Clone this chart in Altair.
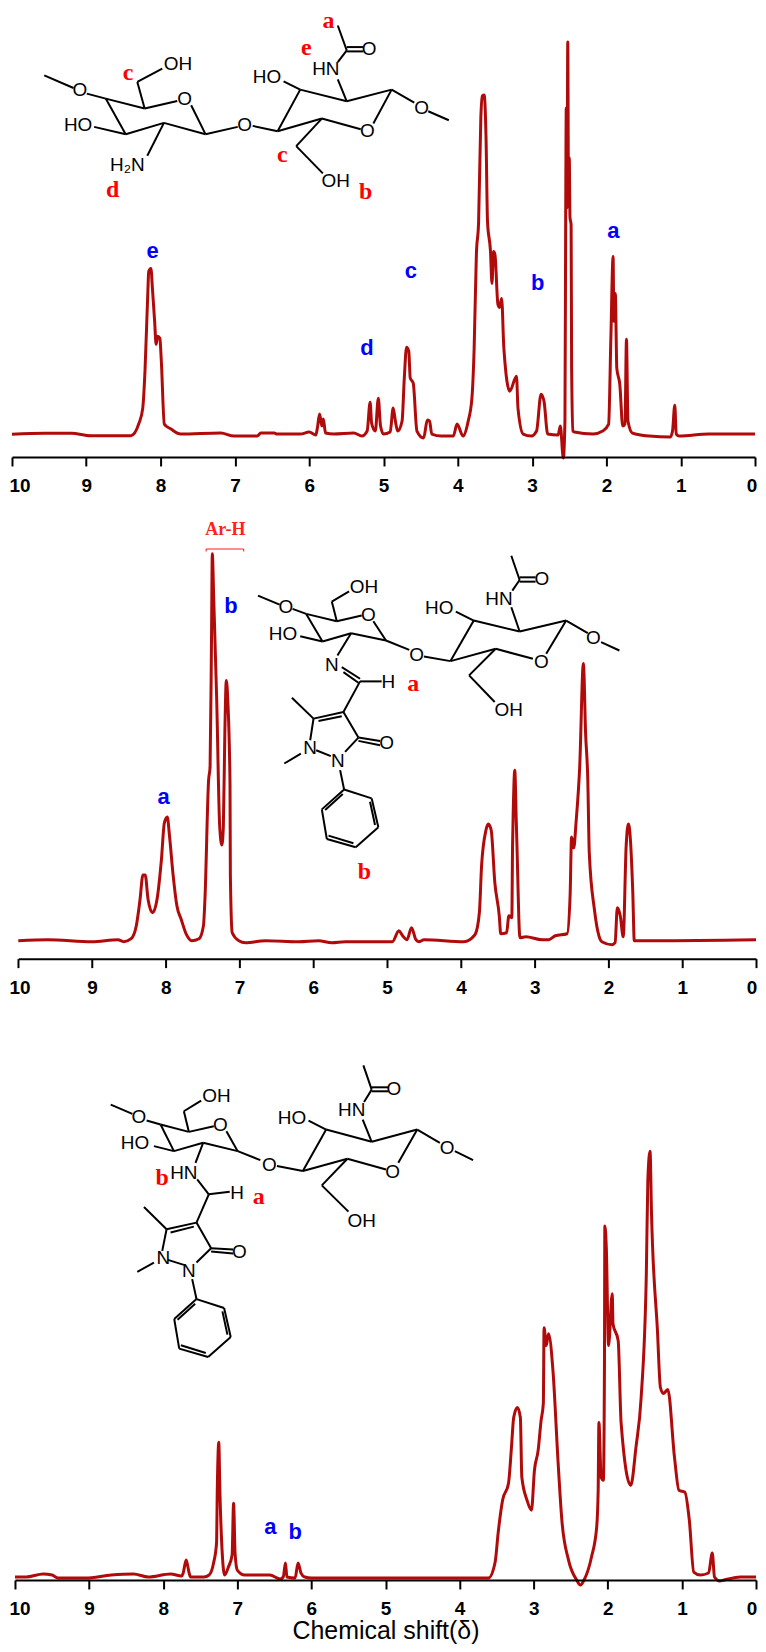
import altair as alt
import pandas as pd

# ---------- spectra: (chemical shift, intensity above the axis) ----------
P1_SPECTRUM = [(10,22.7),(9.56,23.7),(9.2,23.7),(8.94,21.3),(8.4,21.3),(8.29,34),(8.24,49),(8.21,86),(8.17,169),(8.16,186),(8.13,189),(8.11,169),(8.08,136),(8.06,113),(8.04,121),(8.01,119),(7.99,96),(7.95,33),(7.86,28),(7.73,23),(7.19,24),(7.01,21),(6.7,21),(6.65,24),(6.47,24),(6.43,23),(6.12,23),(6.0,25),(5.91,22),(5.89,29),(5.86,43),(5.83,31),(5.81,38),(5.78,24),(5.67,23),(5.4,24),(5.29,21),(5.22,26),(5.18,55),(5.16,34),(5.11,26),(5.07,59),(5.04,31),(5.0,23),
(4.91,25),(4.87,49),(4.84,36),(4.81,26),(4.75,36),(4.72,79),(4.69,110),(4.66,106),(4.64,79),(4.6,74),(4.55,26),(4.46,19),(4.41,37),(4.38,36),(4.35,23),(4.22,21),(4.06,21),(4.01,33),(3.93,21),(3.86,36),(3.81,59),(3.78,109),(3.75,203),(3.72,236),(3.69,340),(3.67,362),(3.645,363),(3.62,320),(3.6,236),(3.56,206),(3.54,174),(3.52,206),(3.5,203),(3.46,153),(3.44,150),(3.41,159),(3.38,109),(3.3,66),(3.21,81),(3.19,49),(3.12,23),(3.01,21),(2.94,26),(2.88,63),(2.84,56),(2.79,23),(2.65,22),(2.62,31),(2.58,-1),(2.558,36),(2.548,240),(2.54,350),(2.53,250),(2.52,416),(2.51,260),(2.5,300),(2.49,240),(2.475,233),(2.468,88),(2.45,26),(2.43,25),(2.18,23),(2.05,26),(1.97,33),(1.94,119),(1.91,201),(1.9,136),(1.88,164),(1.86,89),(1.82,73),(1.78,31),(1.75,33),(1.73,118),(1.71,36),(1.65,24),(1.42,21),(1.14,20),(1.11,26),(1.08,52),(1.06,23),(1.02,21),(0.62,23),(0,23)]
P2_SPECTRUM = [(10,18),(9.6,19),(9.0,17),(8.65,19),(8.57,17),(8.47,20),(8.4,33),(8.35,59),(8.31,84),(8.28,84),(8.24,59),(8.18,46),(8.12,59),(8.06,99),(8.02,136),(7.98,142),(7.95,123),(7.9,83),(7.85,53),(7.79,39),(7.72,24),(7.65,18),(7.55,20),(7.49,33),(7.47,59),(7.42,179),(7.4,192),(7.38,326),(7.37,406),(7.35,359),(7.31,259),(7.27,133),(7.24,114),(7.22,133),(7.2,226),(7.18,279),(7.16,259),(7.13,176),(7.125,83),(7.1,26),(7.01,18),(6.92,16),(6.65,18),(6.2,17),(5.93,18),(5.75,16),(5.57,17),(5.09,17),
(4.93,17),(4.84,28),(4.79,23),(4.73,19),(4.67,31),(4.61,19),(4.57,17),(4.5,19),(3.96,17),(3.81,24),(3.75,46),(3.72,93),(3.66,129),(3.63,135),(3.59,129),(3.54,76),(3.48,43),(3.46,25),(3.38,26),(3.35,43),(3.31,41),(3.3,113),(3.29,150),(3.27,189),(3.25,139),(3.24,113),(3.2,21),(3.12,22),(2.9,19),(2.81,19),(2.72,23),(2.56,25),(2.52,63),(2.5,122),(2.47,111),(2.44,136),(2.39,192),(2.34,296),(2.31,226),(2.28,179),(2.26,106),(2.19,49),(2.13,23),(2.09,17),(1.95,14),(1.91,16),(1.88,51),(1.84,43),(1.8,22),(1.76,113),(1.73,135),(1.72,133),(1.67,66),(1.65,18),(1.37,18),(0,19)]
P3_SPECTRUM = [(10,3),(9.85,3),(9.62,6),(9.5,5),(9.42,2),(9.05,2),(8.7,5),(8.4,6),(8.2,3),(7.9,6),(7.75,4),(7.73,7),(7.69,20),(7.65,7),(7.63,3),(7.45,3),(7.38,5),(7.32,17),(7.28,37),(7.27,90),(7.25,138),(7.235,90),(7.2,23),(7.17,5),(7.12,13),(7.07,25),(7.05,77),(7.03,27),(7.0,10),(6.9,5),(6.56,5),(6.42,1),(6.38,3),(6.35,17),(6.33,3),(6.22,2),(6.18,17),(6.14,7),(6.09,3),(6.0,2),(5.0,2),
(3.7,2),(3.61,2),(3.52,18),(3.48,47),(3.42,80),(3.34,97),(3.3,133),(3.27,163),(3.22,173),(3.18,163),(3.16,103),(3.09,80),(3.03,70),(2.99,110),(2.94,130),(2.9,160),(2.87,177),(2.86,253),(2.83,235),(2.8,247),(2.74,210),(2.67,117),(2.62,60),(2.53,20),(2.42,0),(2.37,-5),(2.32,0),(2.22,23),(2.15,53),(2.13,90),(2.12,158),(2.09,103),(2.06,100),(2.045,217),(2.04,355),(2.02,333),(1.99,235),(1.94,287),(1.93,257),(1.86,240),(1.82,157),(1.69,95),(1.62,133),(1.55,183),(1.48,307),(1.46,400),(1.43,430),(1.41,367),(1.33,250),(1.29,193),(1.25,187),(1.19,191),(1.1,123),(1.04,90),(0.96,88),(0.9,60),(0.84,8),(0.75,5),(0.64,7),(0.59,27),(0.56,3),(0.49,-1),(0.43,0),(0.21,3),(0,3)]

# ---------- structural formulas, drawn in each panel ----------
P1_BONDS = [(130,220,218,258),(258,275,315,290),(315,290,432,320),(432,320,530,297),(572,310,615,397),(615,397,490,363),(490,363,375,397),(375,397,315,290),(280,375,375,397),(490,363,440,462),(432,320,410,240),(410,240,485,200),(615,397,712,375),(757,372,832,388),(832,388,965,350),(965,350,1082,382),(1120,365,1175,263),(1175,263,1040,298),(1040,298,900,263),(900,263,832,388),(850,238,900,263),(1040,298,1013,232),(1175,263,1243,302),(1285,328,1347,355),(965,350,888,433),(888,433,968,515),(1013,180,1040,145),(1040,145,1013,70),(1040,135,1090,135),(1040,148,1090,148)]
P1_ATOMS = [("O",237,265),("O",552,292),("HO",232,368),("H₂N",380,490),("OH",532,186),("O",733,370),("HO",800,226),("HN",977,200),("O",1107,140),("O",1265,318),("O",1102,388),("OH",1007,537)]
P1_RED = [("a",985,58),("e",918,138),("c",382,212),("c",846,460),("d",336,565),("b",1097,570)]
P1_BLUE = [("e",152,249),("d",367,347),("c",411,270),("b",538,282),("a",614,229)]

P2_BONDS = [(263,285,328,312),(367,325,408,340),(408,340,500,362),(500,362,575,345),(610,362,648,420),(648,420,543,398),(543,398,457,423),(457,423,408,340),(390,407,457,423),(543,398,502,465),(500,362,485,303),(485,303,537,272),(648,420,718,448),(762,468,842,482),(842,482,978,445),(978,445,1090,475),(1130,460,1190,360),(1190,360,1050,393),(1050,393,912,360),(912,360,842,482),(858,333,912,360),(1050,393,1025,320),(1190,360,1255,398),(1295,425,1350,450),(978,445,898,525),(898,525,975,605),(1028,270,1050,238),(1050,238,1025,165),(1050,230,1098,230),(1050,243,1098,243),(515,500,570,535),(520,515,565,547),(570,543,635,543),(570,543,520,635),(520,635,430,655),(515,648,445,662),(430,655,365,592),(430,655,420,720),(520,635,565,712),(565,712,630,722),(565,722,630,735),(565,712,525,755),(438,750,482,768),(392,760,342,790),(510,810,522,868)]
PHENYL = [(522,868,605,895),(605,895,625,982),(625,982,557,1042),(557,1042,470,1017),(470,1017,455,928),(455,928,522,868),(518,882,465,930),(600,905,615,975),(475,1007,550,1030)]
P2_ATOMS = [("O",347,320),("O",595,342),("HO",338,400),("OH",582,258),("N",485,493),("H",655,546),("O",740,465),("HO",808,321),("HN",988,295),("O",1117,235),("O",1272,412),("O",1115,485),("OH",1017,630),("N",420,742),("N",503,782),("O",650,727)]
P2_RED = [("a",730,550),("b",583,1117)]
P2_BLUE = [("b",182,315)]
P2_BLUE_FULL = [("a",163,797)]
P2_BRACKET = [(107,152,107,145),(107,145,220,145),(220,145,220,152)]
P2_BRACKET_TEXT = [("Ar-H",165,88)]

P3_BONDS = [(60,130,125,158),(168,178,210,190),(210,190,295,212),(295,212,370,195),(408,210,442,270),(442,270,338,245),(338,245,250,270),(250,270,210,190),(190,255,250,270),(338,245,315,305),(295,212,280,150),(280,150,332,118),(442,270,510,297),(560,315,638,330),(638,330,772,293),(772,293,888,325),(925,305,982,205),(982,205,845,242),(845,242,708,205),(708,205,638,330),(655,178,708,205),(845,242,818,175),(982,205,1050,245),(1095,270,1150,297),(772,293,695,373),(695,373,775,452),(822,122,845,85),(845,85,820,12),(845,78,895,78),(845,90,895,90),(320,355,355,400),(355,400,418,392),(355,400,318,485),(318,485,228,505),(310,497,240,515),(228,505,160,438),(228,505,215,570),(318,485,362,562),(362,562,428,566),(362,572,428,578),(362,562,318,605),(232,597,280,612),(190,605,140,633),(305,655,318,715)]
P3_ATOMS = [("O",145,168),("O",390,190),("HO",133,247),("OH",378,105),("HN",280,335),("H",440,397),("O",537,312),("HO",605,170),("HN",785,145),("O",912,82),("O",1072,262),("O",908,332),("OH",815,480),("N",218,592),("N",295,630),("O",447,573)]
P3_RED = [("b",215,352),("a",505,408)]
P3_BLUE_FULL = [("a",270,1527),("b",295,1532)]

TICKS = list(range(0, 11))
SPEC_COLOR = "#B00A0A"
SANS = "Liberation Sans"
SERIF = "Liberation Serif"


def build(spec, t10, t0, axis_y, top, bonds, atoms, red, blue, zoom_origin,
          first_shift, last_shift, bracket=None, bracket_text=None, title=None):
    H = axis_y - top
    ox, oy = zoom_origin

    def dx(px):
        return 10 * (t0 - px) / (t0 - t10)

    def iy(py):
        return axis_y - py

    def zx(v):
        return ox + v / 3

    def zy(v):
        return oy + v / 3

    xenc = alt.X("x:Q",
                 scale=alt.Scale(domain=[10, 0], range=[t10 - 8, t0 - 8], nice=False, zero=False),
                 axis=alt.Axis(values=TICKS, format="d", grid=False, domainColor="black",
                               domainWidth=2, tickColor="black", tickWidth=2, tickSize=9,
                               labelFont=SANS, labelFontWeight="bold", labelFontSize=19,
                               labelColor="black", labelPadding=11, labelOverlap=False,
                               labelFlush=False,
                               labelOffset={"condition": [
                                   {"test": "datum.value == 10", "value": first_shift},
                                   {"test": "datum.value == 0", "value": last_shift}], "value": 0},
                               zindex=1, title=title, titleFont=SANS, titleFontSize=25,
                               titleFontWeight="normal", titleColor="black", titlePadding=0))
    yenc = alt.Y("y:Q", scale=alt.Scale(domain=[0, H], nice=False, zero=False), axis=None)

    line = alt.Chart(pd.DataFrame(
        [{"x": d, "y": v, "i": i} for i, (d, v) in enumerate(spec)]
    )).mark_line(color=SPEC_COLOR, strokeWidth=3, strokeJoin="round", interpolate="monotone").encode(
        x=xenc, y=yenc, order="i:Q")

    def seg_chart(segs, color, width):
        df = pd.DataFrame([{"x": dx(zx(a)), "y": iy(zy(b)), "x2": dx(zx(c)), "y2": iy(zy(d))}
                           for a, b, c, d in segs])
        return alt.Chart(df).mark_rule(color=color, strokeWidth=width).encode(
            x=xenc, y=yenc, x2="x2:Q", y2="y2:Q")

    def txt_chart(items, font, size, weight, color, full=False, clip=False):
        rows = []
        for s, a, b in items:
            px = a if full else zx(a)
            py = b if full else zy(b)
            rows.append({"x": dx(px), "y": iy(py), "t": s})
        return alt.Chart(pd.DataFrame(rows)).mark_text(
            font=font, fontSize=size, fontWeight=weight, color=color, clip=clip,
            align="center", baseline="middle").encode(x=xenc, y=yenc, text="t:N")

    layers = [seg_chart(bonds, "black", 2), line,
              txt_chart(atoms, SANS, 19, "normal", "black"),
              txt_chart(red, SERIF, 24, "bold", "#FF0000", clip=True)]
    for items, full in blue:
        layers.append(txt_chart(items, SANS, 22, "bold", "#0000FF", full))
    if bracket:
        layers.append(seg_chart(bracket, "#FF2020", 1.1))
        layers.append(txt_chart(bracket_text, SERIF, 18, "bold", "#FF2020"))
    return alt.layer(*layers).properties(width=740, height=H)


p1 = build(P1_SPECTRUM, 11, 756, 456, 8, P1_BONDS, P1_ATOMS, P1_RED,
           [(P1_BLUE, True)], (0, 0), 7.5, -3.5)
p2 = build(P2_SPECTRUM, 17.3, 757, 959, 501, P2_BONDS + PHENYL, P2_ATOMS, P2_RED,
           [(P2_BLUE, False), (P2_BLUE_FULL, True)], (170, 500), 1.2, -4.5,
           bracket=P2_BRACKET, bracket_text=P2_BRACKET_TEXT)
# the third panel's phenyl ring is the same drawing as the second one's, moved
p3_phenyl = [((a + 170 * 3 - 148 * 3 - 90 * 3), (b + 500 * 3 + 509 * 3 - 1060 * 3),
              (c + 170 * 3 - 148 * 3 - 90 * 3), (d + 500 * 3 + 509 * 3 - 1060 * 3))
             for a, b, c, d in PHENYL]
p3 = build(P3_SPECTRUM, 14, 757, 1580, 1002, P3_BONDS + p3_phenyl, P3_ATOMS, P3_RED,
           [(P3_BLUE_FULL, True)], (90, 1060), 4.5, -4.5, title="Chemical shift(δ)")

chart = (alt.vconcat(p1, p2, p3, spacing=6)
         .properties(padding=0, background="white")
         .configure_view(stroke=None))
chart.save("out.html", embed_options={"renderer": "svg", "actions": False})
